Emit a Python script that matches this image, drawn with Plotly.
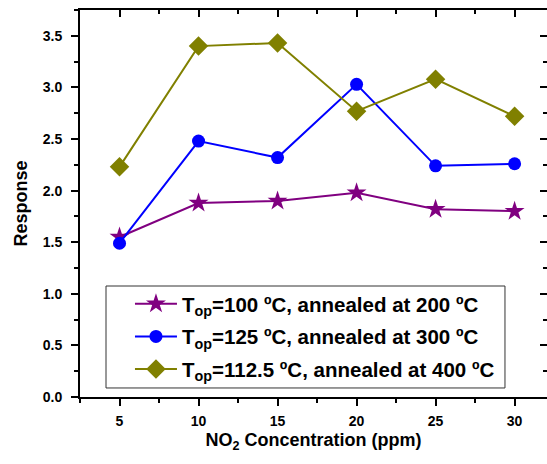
import plotly.graph_objects as go

# NO2 concentration (ppm)
concentration = [5, 10, 15, 20, 25, 30]

# Sensor response for each operating temperature / annealing condition
resp_100_ann200 = [1.55, 1.88, 1.90, 1.98, 1.82, 1.80]
resp_125_ann300 = [1.49, 2.48, 2.32, 3.03, 2.24, 2.26]
resp_1125_ann400 = [2.23, 3.40, 3.43, 2.77, 3.08, 2.72]

series_names = [
    "T<sub>op</sub>=100 ºC, annealed at 200 ºC",
    "T<sub>op</sub>=125 ºC, annealed at 300 ºC",
    "T<sub>op</sub>=112.5 ºC, annealed at 400 ºC",
]

x_ticks = [5, 10, 15, 20, 25, 30]
y_ticks = [0.0, 0.5, 1.0, 1.5, 2.0, 2.5, 3.0, 3.5]

font_family = "Liberation Sans, Arial, sans-serif"

fig = go.Figure()

styles = [
    (resp_100_ann200, "#800080", "star", 15),
    (resp_125_ann300, "#0000FF", "circle", 13),
    (resp_1125_ann400, "#808000", "diamond", 15),
]
for i, ((vals, color, symbol, size), name) in enumerate(zip(styles, series_names)):
    fig.add_trace(go.Scatter(
        x=concentration, y=vals, name=name, legendgroup=f"g{i}",
        mode="lines+markers",
        line=dict(color=color, width=2),
        marker=dict(symbol=symbol, size=size, color=color),
    ))

# Mirrored axes on top/right carrying inward ticks
fig.add_trace(go.Scatter(x=[None], y=[None], xaxis="x2", yaxis="y2",
                         showlegend=False, hoverinfo="skip"))

x_range = [2.5, 32.05]
y_range = [0, 3.75]

# Frame around the legend entries
fig.add_shape(type="rect", xref="paper", yref="paper",
              x0=0.0557, x1=0.910, y0=0.0233, y1=0.2868,
              line=dict(color="#333333", width=1), fillcolor="white",
              layer="below")

fig.update_layout(
    width=547, height=464,
    margin=dict(l=80, r=0, t=10, b=67),
    paper_bgcolor="white", plot_bgcolor="white",
    font=dict(family=font_family, color="black"),
    showlegend=True,
    legend=dict(
        x=0.107, y=0.292, xanchor="left", yanchor="top",
        borderwidth=0, bgcolor="rgba(0,0,0,0)",
        font=dict(size=20.5, family=font_family, weight="bold"),
        itemwidth=42, tracegroupgap=3,
    ),
    xaxis=dict(
        range=x_range, tickvals=x_ticks,
        showgrid=False, zeroline=False,
        showline=True, linecolor="black", linewidth=2,
        ticks="outside", ticklen=7, tickwidth=1.5, tickcolor="black",
        minor=dict(ticks="outside", ticklen=4, tickwidth=1.5, dtick=2.5,
                   tick0=2.5, tickcolor="black", showgrid=False),
        tickfont=dict(size=14, weight="bold"),
        ticklabelstandoff=3,
        title=dict(text="NO<sub>2</sub> Concentration (ppm)",
                   font=dict(size=18, weight="bold"), standoff=6),
    ),
    yaxis=dict(
        range=y_range, tickvals=y_ticks, tickformat=".1f",
        showgrid=False, zeroline=False,
        showline=True, linecolor="black", linewidth=2,
        ticks="outside", ticklen=7, tickwidth=1.5, tickcolor="black",
        minor=dict(ticks="outside", ticklen=4, tickwidth=1.5, dtick=0.25,
                   tick0=0, tickcolor="black", showgrid=False),
        tickfont=dict(size=14, weight="bold"),
        ticklabelstandoff=6,
        title=dict(text="Response", font=dict(size=18, weight="bold"),
                   standoff=10),
    ),
    xaxis2=dict(
        overlaying="x", side="top", range=x_range, tickvals=x_ticks,
        showticklabels=False, showgrid=False, zeroline=False,
        showline=True, linecolor="black", linewidth=2,
        ticks="inside", ticklen=7, tickwidth=1.5, tickcolor="black",
        minor=dict(ticks="inside", ticklen=4, tickwidth=1.5, dtick=2.5,
                   tick0=2.5, tickcolor="black", showgrid=False),
    ),
    yaxis2=dict(
        overlaying="y", side="right", range=y_range, tickvals=y_ticks,
        showticklabels=False, showgrid=False, zeroline=False,
        showline=True, linecolor="black", linewidth=2,
        ticks="inside", ticklen=7, tickwidth=1.5, tickcolor="black",
        minor=dict(ticks="inside", ticklen=4, tickwidth=1.5, dtick=0.25,
                   tick0=0, tickcolor="black", showgrid=False),
    ),
)

fig.write_html("out.html")
